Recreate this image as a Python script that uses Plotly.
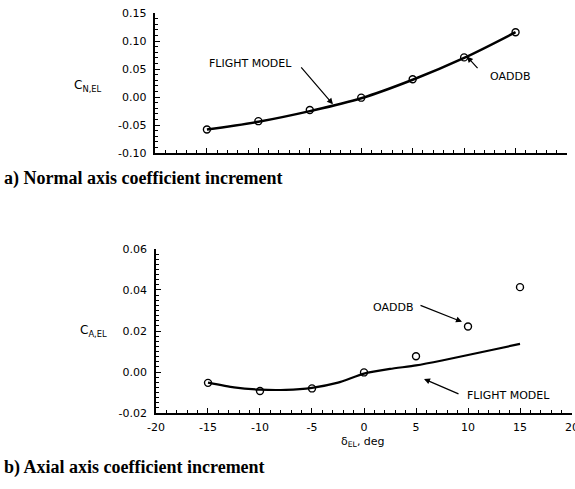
import plotly.graph_objects as go

# Elevator deflection, deg
delta_el = [-15, -10, -5, 0, 5, 10, 15]

# a) Normal axis coefficient increment
cn_oaddb = [-0.058, -0.043, -0.023, -0.001, 0.032, 0.071, 0.116]
cn_flight = [-0.058, -0.044, -0.025, -0.002, 0.031, 0.070, 0.116]

# b) Axial axis coefficient increment
ca_oaddb = [-0.0053, -0.0093, -0.0080, -0.0002, 0.0077, 0.0222, 0.0414]
ca_model_x = [-15, -12.5, -10, -7.5, -5, -2.5, 0, 2.5, 5, 7.5, 10, 12.5, 15]
ca_flight = [-0.0052, -0.0075, -0.0086, -0.0087, -0.0077, -0.0052, -0.0008,
             0.0015, 0.0032, 0.0056, 0.0083, 0.0110, 0.0137]

x_ticks = [-20, -15, -10, -5, 0, 5, 10, 15, 20]

TICK_FONT = dict(family="DejaVu Sans", size=11, color="black")
LABEL_FONT = dict(family="DejaVu Sans", size=11, color="black")
CAPTION_FONT = dict(family="Liberation Serif", size=18, color="black")

fig = go.Figure()

# top panel
fig.add_trace(go.Scatter(x=delta_el, y=cn_flight, mode="lines",
                         line=dict(color="black", width=2.5, shape="spline"),
                         xaxis="x", yaxis="y", showlegend=False))
fig.add_trace(go.Scatter(x=delta_el, y=cn_oaddb, mode="markers",
                         marker=dict(symbol="circle-open", size=7, color="black",
                                     line=dict(width=1.4)),
                         xaxis="x", yaxis="y", showlegend=False))

# bottom panel
fig.add_trace(go.Scatter(x=ca_model_x, y=ca_flight, mode="lines",
                         line=dict(color="black", width=2.2, shape="spline",
                                   smoothing=0.6),
                         xaxis="x2", yaxis="y2", showlegend=False))
fig.add_trace(go.Scatter(x=delta_el, y=ca_oaddb, mode="markers",
                         marker=dict(symbol="circle-open", size=7, color="black",
                                     line=dict(width=1.4)),
                         xaxis="x2", yaxis="y2", showlegend=False))

common_x = dict(range=[-20, 20], tickvals=x_ticks, ticks="inside", ticklen=5,
                tickwidth=1.2, tickcolor="black", showline=True, linecolor="black",
                linewidth=1.5, showgrid=False, zeroline=False, automargin=False,
                minor=dict(dtick=1, ticks="inside", ticklen=3, tickcolor="black",
                           tickwidth=1, showgrid=False),
                tickfont=TICK_FONT, ticklabeloverflow="allow",
                ticklabelstandoff=3)
common_y = dict(ticks="inside", ticklen=5, tickwidth=1.2, tickcolor="black",
                showline=True, linecolor="black", linewidth=1.5, showgrid=False,
                zeroline=False, tickfont=TICK_FONT, ticklabelstandoff=5,
                automargin=False)

fig.update_layout(
    width=575, height=489,
    margin=dict(l=0, r=0, t=0, b=0),
    paper_bgcolor="white", plot_bgcolor="white",
    xaxis=dict(common_x, domain=[0.2704, 0.9861], anchor="y",
               showticklabels=False),
    yaxis=dict(common_y, domain=[0.687, 0.973], anchor="x",
               range=[-0.10, 0.15], tickvals=[-0.10, -0.05, 0.0, 0.05, 0.10, 0.15],
               ticktext=["-0.10", "-0.05", "0.00", "0.05", "0.10", "0.15"],
               minor=dict(dtick=0.01, ticks="inside", ticklen=3, tickcolor="black",
                          tickwidth=1, showgrid=False)),
    xaxis2=dict(common_x, domain=[0.2713, 0.9948], anchor="y2",
                ticktext=[str(v) for v in x_ticks]),
    yaxis2=dict(common_y, domain=[0.1554, 0.4908], anchor="x2",
                range=[-0.02, 0.06], tickvals=[-0.02, 0.0, 0.02, 0.04, 0.06],
                ticktext=["-0.02", "0.00", "0.02", "0.04", "0.06"],
                minor=dict(dtick=0.0025, ticks="inside", ticklen=3, tickcolor="black",
                           tickwidth=1, showgrid=False)),
)

arrow = dict(showarrow=True, arrowhead=2, arrowsize=1, arrowwidth=1.2,
             arrowcolor="black", text="")


def paper_text(px, py, text, font, xanchor="left"):
    """Text placed by pixel position, centred vertically on py."""
    return dict(x=px / 575, y=1 - py / 489, xref="paper", yref="paper",
                text=text, showarrow=False, xanchor=xanchor, yanchor="middle",
                font=font)


annotations = [
    # top panel labels and pointers
    dict(x=-10.8, y=0.060, xref="x", yref="y", text="FLIGHT MODEL",
         showarrow=False, font=LABEL_FONT),
    dict(arrow, x=-2.75, y=-0.0127, ax=-5.96, ay=0.056,
         xref="x", yref="y", axref="x", ayref="y"),
    dict(x=14.45, y=0.036, xref="x", yref="y", text="OADDB",
         showarrow=False, font=LABEL_FONT),
    dict(arrow, x=10.27, y=0.0725, ax=11.44, ay=0.049,
         xref="x", yref="y", axref="x", ayref="y"),
    # bottom panel labels and pointers
    dict(x=2.79, y=0.0317, xref="x2", yref="y2", text="OADDB",
         showarrow=False, font=LABEL_FONT),
    dict(arrow, x=9.42, y=0.0245, ax=5.29, ay=0.0328,
         xref="x2", yref="y2", axref="x2", ayref="y2"),
    dict(x=13.85, y=-0.0116, xref="x2", yref="y2", text="FLIGHT MODEL",
         showarrow=False, font=LABEL_FONT),
    dict(arrow, x=5.77, y=-0.0034, ax=9.23, ay=-0.011,
         xref="x2", yref="y2", axref="x2", ayref="y2"),
    # axis titles
    paper_text(72, 86, "C<sub>N,EL</sub>",
               dict(family="DejaVu Sans", size=12, color="black")),
    paper_text(78, 331, "C<sub>A,EL</sub>",
               dict(family="DejaVu Sans", size=12, color="black")),
    paper_text(363, 442, "δ<sub>EL</sub>, deg",
               dict(family="DejaVu Sans", size=11, color="black"),
               xanchor="center"),
    # panel captions
    paper_text(2, 178, "<b>a) Normal axis coefficient increment</b>",
               CAPTION_FONT),
    paper_text(2, 467, "<b>b) Axial axis coefficient increment</b>",
               CAPTION_FONT),
]
fig.update_layout(annotations=annotations)

fig.write_html("out.html")
